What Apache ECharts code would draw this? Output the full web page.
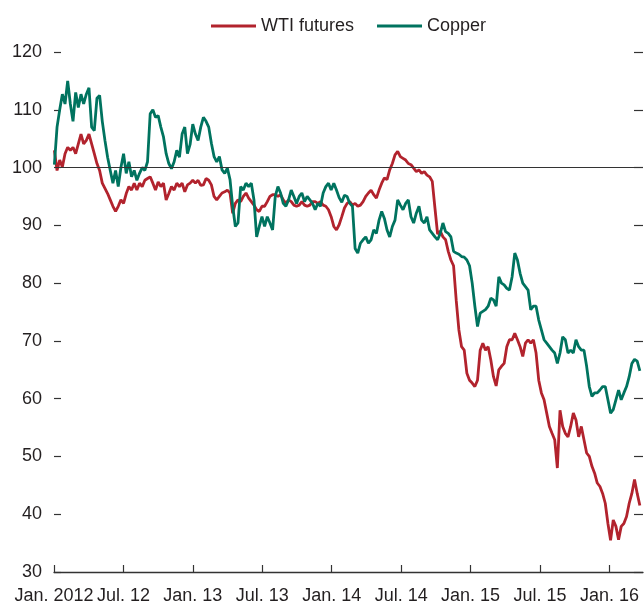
<!DOCTYPE html>
<html>
<head>
<meta charset="utf-8">
<title>WTI futures and copper</title>
<script src="https://cdn.jsdelivr.net/npm/echarts@6/dist/echarts.min.js"></script>
<style>html,body{margin:0;padding:0;background:#fff}</style>
</head>
<body>
<div id="main" style="width:644px;height:605px"></div>
<script type="text/javascript">
    // weekly readings, index 0 = first week of Jan. 2012 (index, Jan. 2012 = 100)
    var wti = [
        103, 99.5, 101.3, 100.1, 102.4, 103.5, 103, 103.5, 102.4, 104.1,
        105.8, 104.1, 104.7, 105.8, 104.1, 102.4, 100.7, 99.5, 97.3, 96.4,
        95.5, 94.4, 93.3, 92.4, 93.3, 94.4, 93.8, 95.5, 96.7, 96.1,
        97.3, 96.1, 97.3, 96.7, 97.8, 98.1, 98.4, 97.3, 96.1, 97.5,
        96.7, 97.3, 94.4, 95.5, 96.7, 96.1, 97.3, 96.7, 97.3, 95.8,
        97, 97.3, 97.8, 97.3, 97.8, 96.9, 97, 98.1, 97.8, 97,
        95, 94.4, 95, 95.6, 95.8, 96.1, 95.6, 92.1, 93.8, 94.4,
        94.1, 95, 95.6, 94.7, 94.1, 93.5, 92.7, 92.4, 93.3, 93.3,
        94.1, 95, 95.3, 95.3, 95, 95.3, 94.4, 93.8, 94.4, 94.1,
        93.5, 93.3, 93.5, 94.1, 93.5, 93.3, 93.5, 94.1, 94.1, 93.8,
        94.1, 93.5, 93.3, 92.7, 91.5, 89.8, 89.2, 90.1, 91.5, 93,
        93.8, 94.1, 93.5, 93.8, 93.3, 93.5, 94.1, 95, 95.6, 96.1,
        95.3, 94.7, 96.1, 97.3, 98.2, 97.9, 99.6, 100.7, 102.2, 102.8,
        101.9, 101.6, 101.3, 100.7, 100.5, 99.9, 99.3, 99.6, 99, 99.3,
        98.7, 98.4, 97.6, 93, 88.5, 89, 88, 87.5, 85.5, 84,
        83, 77, 71.9, 69, 68.4, 64.4, 63.2, 62.7, 62.1, 63.2,
        68.4, 69.6, 68.4, 69, 66.7, 63.8, 62.2, 65, 65.6, 66.1,
        69, 70.2, 70.2, 71.3, 70.2, 69, 67.3, 69.6, 70.2, 69.6,
        70.2, 67.9, 63.2, 61, 59.8, 57.5, 55.2, 54, 52.9, 48,
        58, 55.2, 54, 53.4, 55.2, 57.5, 56.3, 53.4, 55.2, 52.9,
        50.6, 50, 48.3, 47.1, 45.4, 44.8, 43.6, 41.9, 38.4, 35.5,
        39, 37.9, 35.6, 37.9, 38.4, 39.6, 41.9, 43.6, 46, 43.6,
        41.5
    ];
    var copper = [
        100.5, 107, 110, 112.7, 111, 115, 111, 108, 113, 110.4,
        112.7, 111, 112.7, 113.8, 107, 106.4, 112, 112.5, 108, 104.7,
        101.8, 99.5, 97.3, 99.5, 96.7, 100, 102.4, 99, 101, 98.4,
        99.5, 97.8, 99, 100, 99.5, 101, 109.3, 110, 108.7, 109,
        107, 105.3, 102.4, 100.7, 99.8, 101, 103, 101.8, 105.8, 107,
        102.4, 104, 107.5, 105.8, 104.7, 107, 108.7, 108, 107, 104.2,
        101.9, 101, 101.9, 99.6, 99, 99.9, 97.9, 93.3, 89.8, 90.4,
        96.7, 96.1, 97.3, 96.7, 97.3, 94.4, 88, 89.8, 91.5, 89.8,
        91.5, 90.4, 89.2, 95, 96.7, 95.6, 93.8, 93.3, 94.4, 96.1,
        95, 93.8, 95, 95.6, 94.1, 95, 94.4, 93.8, 92.7, 93.8,
        93.3, 95.6, 96.7, 97.3, 96.1, 97.3, 96.1, 94.8, 94, 95.2,
        95, 93.8, 93.3, 86, 85.2, 86.9, 87.5, 88, 86.9, 87.5,
        89.2, 88.6, 90.9, 92.4, 91.2, 89.2, 88, 89.8, 90.9, 94.4,
        93.5, 92.7, 93.8, 94.4, 91.5, 90.4, 92.1, 93.3, 90.9, 90.4,
        91.5, 89.2, 88.6, 88, 87.5, 88.6, 90.4, 88.9, 88.6, 88,
        85.5, 85.2, 85, 84.6, 84.5, 84, 83, 80, 76, 72.5,
        74.8, 75.1, 75.4, 76, 77.4, 77.1, 76, 81.1, 80, 79.7,
        79.1, 78.8, 81.1, 85.2, 84, 81.7, 80, 79.4, 78.8, 75.4,
        76, 76, 73.6, 71.9, 70.2, 69.6, 69, 68.4, 67.9, 66.1,
        67.9, 70.7, 70.2, 67.9, 68.4, 67.9, 70.2, 69, 68.4, 68.4,
        65.6, 62.1, 60.4, 61, 61, 61.5, 62.1, 62.1, 59.8, 57.5,
        58.1, 59.8, 61.5, 59.8, 61, 62.1, 63.8, 66.1, 66.8, 66.5,
        64.8
    ];
    // x axis in months since Jan. 2012
    var tickMonths = [0, 6, 12, 18, 24, 30, 36, 42, 48];
    var tickLabels = ['Jan. 2012', 'Jul. 12', 'Jan. 13', 'Jul. 13', 'Jan. 14', 'Jul. 14', 'Jan. 15', 'Jul. 15', 'Jan. 16'];

    function weekly(values) {
        return values.map(function (v, i) {
            return [(i * 7 + 1) / 30.4375, v];
        });
    }

    var font = 'Liberation Sans, Arial, sans-serif';
    var ink = '#231f20';

    var myChart = echarts.init(document.getElementById('main'));
    var option = {
        animation: false,
        backgroundColor: '#fff',
        textStyle: { fontFamily: font },
        legend: {
            left: 206,
            top: 12,
            icon: 'rect',
            itemWidth: 45,
            itemHeight: 3,
            itemGap: 23,
            textStyle: { fontSize: 18, color: ink, fontFamily: font },
            data: ['WTI futures', 'Copper']
        },
        grid: { left: 54, right: 1, top: 52, bottom: 33 },
        xAxis: {
            type: 'value',
            min: 0,
            max: 50.9,
            axisLine: { lineStyle: { color: '#333', width: 1.3 } },
            axisTick: { inside: true, length: 7, customValues: tickMonths, lineStyle: { color: '#333', width: 1.2 } },
            axisLabel: {
                customValues: tickMonths,
                margin: 15,
                fontSize: 18,
                color: ink,
                fontFamily: font,
                formatter: function (v) {
                    return tickLabels[tickMonths.indexOf(Math.round(v))];
                }
            },
            splitLine: { show: false }
        },
        yAxis: [{
            type: 'value',
            min: 30,
            max: 120,
            interval: 10,
            axisLine: { show: false },
            axisTick: { show: true, inside: true, length: 7, lineStyle: { color: '#333', width: 1.2 } },
            axisLabel: { margin: 12, fontSize: 18, color: ink, fontFamily: font },
            splitLine: { show: false }
        }, {
            type: 'value',
            position: 'right',
            min: 30,
            max: 120,
            interval: 10,
            axisLine: { show: false },
            axisTick: { show: true, inside: true, length: 9, lineStyle: { color: '#333', width: 1.2 } },
            axisLabel: { show: false },
            splitLine: { show: false }
        }],
        series: [{
            name: 'WTI futures',
            type: 'line',
            symbol: 'none',
            showSymbol: false,
            color: '#b2232d',
            lineStyle: { width: 2.8, color: '#b2232d' },
            data: weekly(wti),
            markLine: {
                silent: true,
                symbol: ['none', 'none'],
                label: { show: false },
                lineStyle: { color: '#333', width: 1.2, type: 'solid' },
                data: [{ yAxis: 100 }]
            }
        }, {
            name: 'Copper',
            type: 'line',
            symbol: 'none',
            showSymbol: false,
            color: '#00735f',
            lineStyle: { width: 2.8, color: '#00735f' },
            data: weekly(copper)
        }]
    };
    myChart.setOption(option);
</script>
</body>
</html>
